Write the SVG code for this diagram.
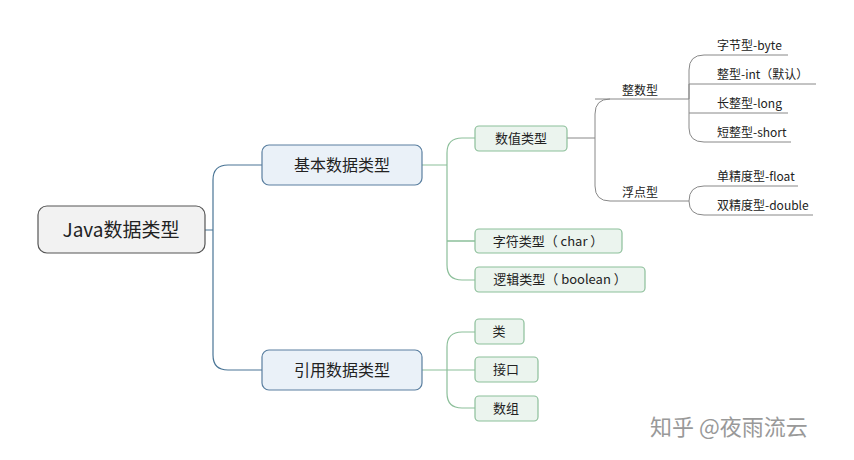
<svg xmlns="http://www.w3.org/2000/svg" width="854" height="460" viewBox="0 0 854 460">
<style>
text{font-family:"Microsoft YaHei","Noto Sans CJK SC","Liberation Sans",sans-serif;fill:#222}
.b{stroke:#4a7596;stroke-width:1.2;fill:none}
.g{stroke:#8cbf9a;stroke-width:1.2;fill:none}
.t{stroke:#888;stroke-width:1;fill:none}
.blue{fill:#eaf1f8;stroke:#5a7fa0;stroke-width:1.2}
.grn{fill:#ebf4ee;stroke:#8cbf9a;stroke-width:1.2}
.s{font-size:12px}
</style>
<g id="connectors">
<path class="b" d="M205 230H213M262 165H228Q213 165 213 180V355Q213 370 228 370H262"/>
<path class="g" d="M422 165H447M462 138Q447 138 447 153V265Q447 280 462 280H475M447 241Q447 241 462 241H475M447 241V241"/>
<path class="g" d="M462 138H475M447 241H475"/>
<path class="g" d="M422 370H447M475 332H462Q447 332 447 347V393Q447 408 462 408H475M447 370H475"/>
<path class="t" d="M567 138H595M610 99Q595 99 595 114V186Q595 201 610 201H689M595 99H689"/>
<path class="t" d="M689 99V70Q689 55 704 55H788M689 84V128Q689 142 704 142H791M689 84H816M689 113H788M689 99V99"/>
<path class="t" d="M689 201Q689 186 704 186H798M689 201Q689 215 704 215H813"/>
</g>
<g id="root"><rect x="38" y="206" width="167" height="47" rx="9" fill="#f2f2f2" stroke="#555" stroke-width="1.2"/><text x="121" y="237" font-size="19" text-anchor="middle">Java数据类型</text></g>
<g id="basic"><rect class="blue" x="262" y="145" width="160" height="40" rx="7"/><text x="342" y="171" font-size="16" text-anchor="middle">基本数据类型</text></g>
<g id="ref"><rect class="blue" x="262" y="350" width="160" height="40" rx="7"/><text x="342" y="376" font-size="16" text-anchor="middle">引用数据类型</text></g>
<g id="num"><rect class="grn" x="475" y="126" width="92" height="25" rx="4"/><text x="521" y="143" font-size="13" text-anchor="middle">数值类型</text></g>
<g id="char"><rect class="grn" x="475" y="229" width="147" height="24" rx="4"/><text x="548" y="246" font-size="13" text-anchor="middle">字符类型（ char ）</text></g>
<g id="bool"><rect class="grn" x="475" y="267" width="170" height="25" rx="4"/><text x="560" y="284" font-size="13" text-anchor="middle">逻辑类型（ boolean ）</text></g>
<g id="cls"><rect class="grn" x="475" y="319" width="49" height="25" rx="4"/><text x="499" y="336" font-size="13" text-anchor="middle">类</text></g>
<g id="iface"><rect class="grn" x="475" y="357" width="63" height="25" rx="4"/><text x="506" y="374" font-size="13" text-anchor="middle">接口</text></g>
<g id="arr"><rect class="grn" x="475" y="396" width="63" height="25" rx="4"/><text x="506" y="413" font-size="13" text-anchor="middle">数组</text></g>
<g id="int"><text class="s" x="622" y="95">整数型</text></g>
<g id="float"><text class="s" x="622" y="197">浮点型</text></g>
<g id="byte"><text class="s" x="717" y="50">字节型-byte</text></g>
<g id="intd"><text class="s" x="717" y="79">整型-int（默认）</text></g>
<g id="long"><text class="s" x="717" y="108">长整型-long</text></g>
<g id="short"><text class="s" x="717" y="137">短整型-short</text></g>
<g id="fl"><text class="s" x="717" y="181">单精度型-float</text></g>
<g id="db"><text class="s" x="717" y="210">双精度型-double</text></g>
<text x="650" y="435" font-size="22" style="fill:#999">知乎 @夜雨流云</text>
</svg>
